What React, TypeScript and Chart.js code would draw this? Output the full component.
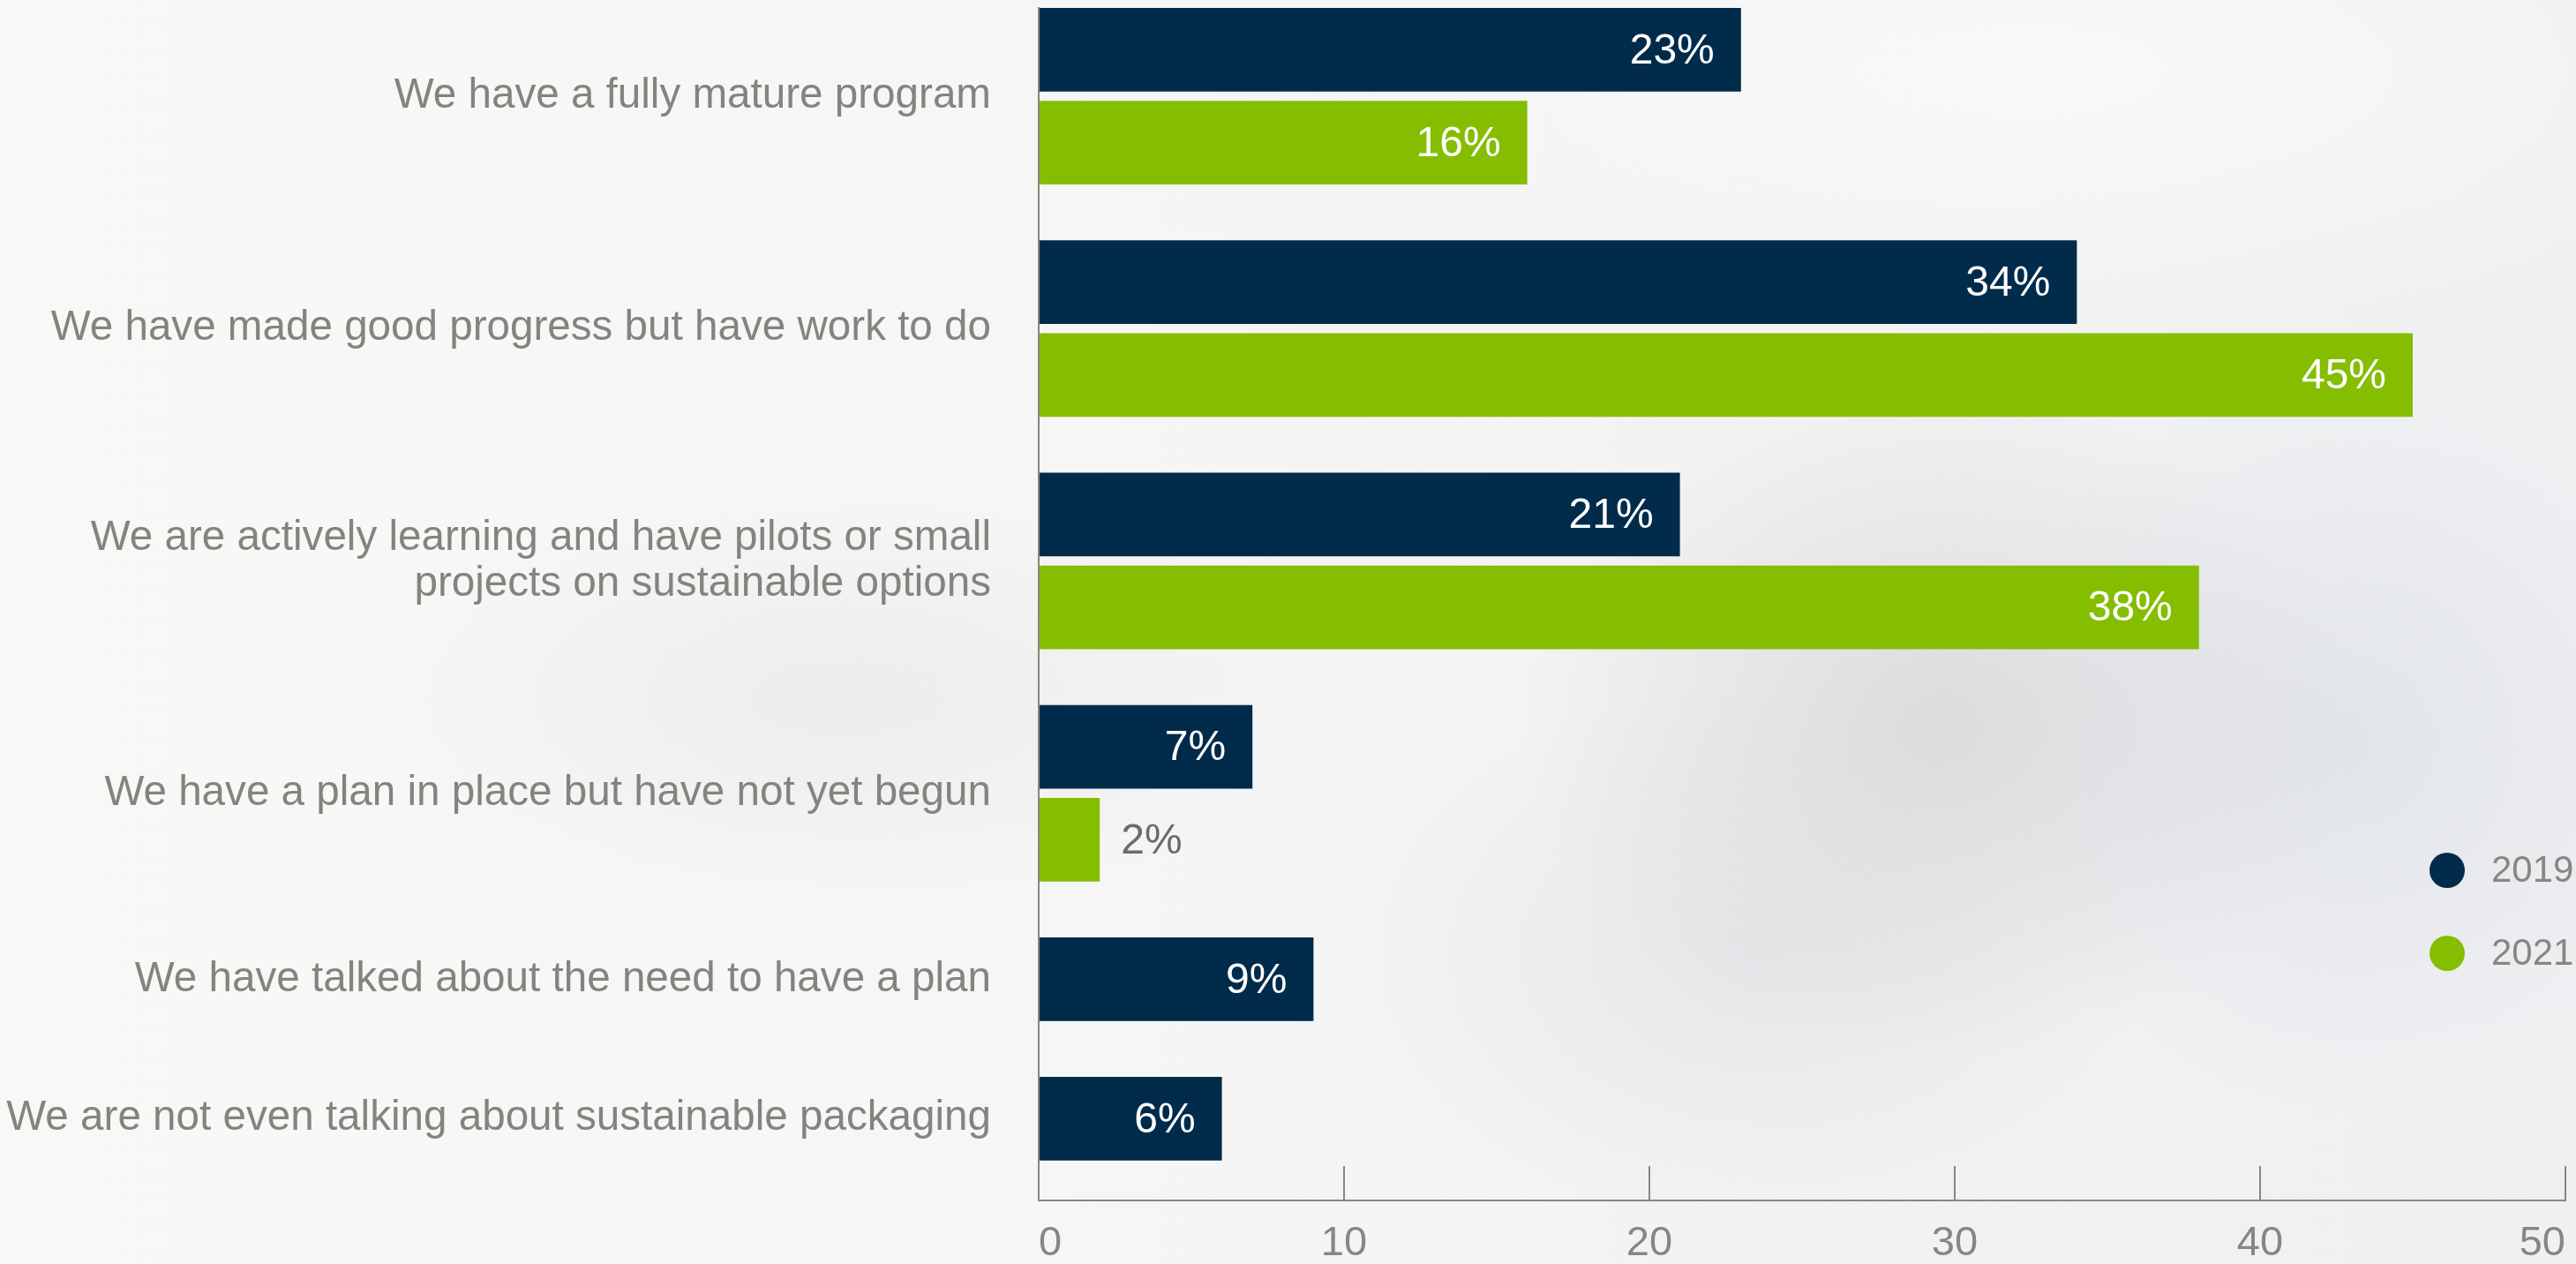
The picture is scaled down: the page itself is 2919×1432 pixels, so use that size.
import React, { useEffect, useRef } from "react";
import { Chart, registerables } from "chart.js";

Chart.register(...registerables);

// ---- data ----
const CATEGORIES: (string | string[])[] = [
  "We have a fully mature program",
  "We have made good progress but have work to do",
  ["We are actively learning and have pilots or small", "projects on sustainable options"],
  "We have a plan in place but have not yet begun",
  "We have talked about the need to have a plan",
  "We are not even talking about sustainable packaging",
];
const SERIES_LABELS = ["2019", "2021"];
const VALUES_2019: (number | null)[] = [23, 34, 21, 7, 9, 6];
const VALUES_2021: (number | null)[] = [16, 45, 38, 2, null, null];
const X_TICKS = [0, 10, 20, 30, 40, 50];

// ---- styles ----
const COLORS = ["#012b4b", "#85bd00"];
const GRAY = "#878782";
const FONT = "'Liberation Sans', Arial, Helvetica, sans-serif";
const GROUP_STEP = 1.5; // spacing between groups, in bar-row units

function buildRows(series: (number | null)[][]) {
  const positions: (number | null)[][] = series.map(() => []);
  const centers: number[] = [];
  let cursor = 0;
  CATEGORIES.forEach((_, ci) => {
    const rows: number[] = [];
    series.forEach((vals, si) => {
      if (vals[ci] == null) {
        positions[si].push(null);
        return;
      }
      if (rows.length) cursor += 1;
      positions[si].push(cursor);
      rows.push(cursor);
    });
    centers.push(rows.reduce((a, b) => a + b, 0) / rows.length);
    cursor += GROUP_STEP;
  });
  return { positions, centers };
}

const valueLabelPlugin = {
  id: "valueLabels",
  afterDatasetsDraw(chart: any) {
    const ctx = chart.ctx;
    ctx.save();
    ctx.font = `48px ${FONT}`;
    ctx.textBaseline = "middle";
    chart.data.datasets.forEach((ds: any, di: number) => {
      const meta = chart.getDatasetMeta(di);
      meta.data.forEach((el: any, i: number) => {
        const raw = ds.data[i];
        if (!raw) return;
        const text = `${raw.x}%`;
        const w = ctx.measureText(text).width;
        const barW = Math.abs(el.x - el.base);
        if (barW > w + 44) {
          ctx.fillStyle = "#ffffff";
          ctx.textAlign = "right";
          ctx.fillText(text, el.x - 30, el.y + 2);
        } else {
          ctx.fillStyle = "#6c6c67";
          ctx.textAlign = "left";
          ctx.fillText(text, el.x + 24, el.y + 2);
        }
      });
    });
    ctx.restore();
  },
};

const legendPlugin = {
  id: "dotLegend",
  afterDraw(chart: any) {
    const ctx = chart.ctx;
    const area = chart.chartArea;
    ctx.save();
    ctx.font = `42px ${FONT}`;
    ctx.textBaseline = "middle";
    ctx.textAlign = "left";
    chart.data.datasets.forEach((ds: any, i: number) => {
      const cx = area.right - 134;
      const cy = area.bottom - 374 + i * 94;
      ctx.beginPath();
      ctx.arc(cx, cy, 20, 0, Math.PI * 2);
      ctx.fillStyle = ds.backgroundColor;
      ctx.fill();
      ctx.fillStyle = GRAY;
      ctx.fillText(ds.label, cx + 50, cy + 1);
    });
    ctx.restore();
  },
};

export default function App() {
  const canvasRef = useRef<HTMLCanvasElement | null>(null);

  useEffect(() => {
    if (!canvasRef.current) return;
    const series = [VALUES_2019, VALUES_2021];
    const { positions, centers } = buildRows(series);

    const datasets = series.map((vals, si) => ({
      label: SERIES_LABELS[si],
      data: vals
        .map((v, i) => (v == null ? null : { x: v, y: positions[si][i] as number }))
        .filter((p) => p !== null),
      backgroundColor: COLORS[si],
      borderWidth: 0,
      grouped: false,
      categoryPercentage: 1,
      barPercentage: 0.9,
    }));

    const chart = new Chart(canvasRef.current, {
      type: "bar",
      data: { datasets } as any,
      plugins: [valueLabelPlugin, legendPlugin],
      options: {
        indexAxis: "y",
        animation: false,
        responsive: false,
        layout: { padding: { top: 9, right: 12, bottom: 0, left: 0 } },
        plugins: {
          legend: { display: false },
          tooltip: { enabled: false },
        },
        scales: {
          y: {
            type: "linear",
            reverse: true,
            offset: false,
            min: -0.45,
            max: 12.38,
            afterBuildTicks: (scale: any) => {
              scale.ticks = centers.map((c) => ({ value: c }));
            },
            afterFit: (scale: any) => {
              scale.width = 1177;
              scale.paddingTop = 0;
              scale.paddingBottom = 0;
            },
            grid: { display: false, drawTicks: false, offset: false },
            border: { display: true, color: GRAY, width: 2 },
            ticks: {
              autoSkip: false,
              padding: 54,
              color: "#84847f",
              font: { family: FONT, size: 47.6, lineHeight: 1.09 },
              callback: (_v: any, index: number) => CATEGORIES[index],
            },
          },
          x: {
            type: "linear",
            min: X_TICKS[0],
            max: X_TICKS[X_TICKS.length - 1],
            afterBuildTicks: (scale: any) => {
              scale.ticks = X_TICKS.map((v) => ({ value: v }));
            },
            afterFit: (scale: any) => {
              scale.height = 72;
              scale.paddingLeft = 0;
              scale.paddingRight = 0;
            },
            grid: {
              display: true,
              drawOnChartArea: false,
              drawTicks: true,
              tickLength: -39,
              color: GRAY,
              lineWidth: 2,
            },
            border: { display: true, color: GRAY, width: 2 },
            ticks: {
              align: "inner",
              padding: 60,
              color: GRAY,
              font: { family: FONT, size: 47, lineHeight: 1.2 },
              callback: (v: any) => String(v),
            },
          },
        },
      } as any,
    });
    return () => chart.destroy();
  }, []);

  return (
    <div
      style={{
        position: "fixed",
        left: 0,
        top: 0,
        width: 2919,
        height: 1432,
        overflow: "hidden",
        background: [
          "radial-gradient(ellipse 480px 380px at 2200px 820px, rgba(214,214,217,0.8), rgba(214,214,217,0) 100%)",
          "radial-gradient(ellipse 420px 420px at 2660px 840px, rgba(220,224,231,0.75), rgba(220,224,231,0) 100%)",
          "radial-gradient(ellipse 460px 300px at 1980px 1080px, rgba(222,223,227,0.6), rgba(222,223,227,0) 100%)",
          "radial-gradient(ellipse 560px 240px at 950px 790px, rgba(228,228,228,0.55), rgba(228,228,228,0) 100%)",
          "radial-gradient(ellipse 900px 300px at 2300px 80px, rgba(250,250,250,0.9), rgba(250,250,250,0) 100%)",
          "linear-gradient(to right, #f8f8f7 0%, #f6f6f6 40%, #f2f2f3 70%, #eff0f2 100%)",
        ].join(", "),
      }}
    >
      <canvas
        ref={canvasRef}
        width={2919}
        height={1432}
        style={{ display: "block", width: 2919, height: 1432 }}
      />
    </div>
  );
}
